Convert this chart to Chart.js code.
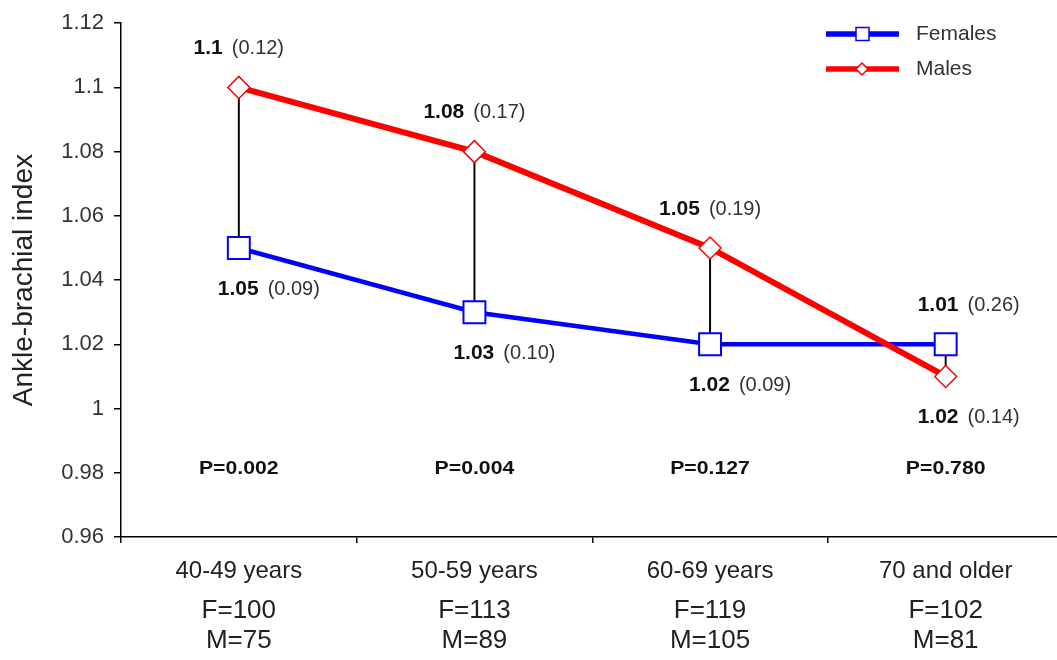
<!DOCTYPE html>
<html>
<head>
<meta charset="utf-8">
<script src="https://cdn.jsdelivr.net/npm/chart.js@4.4.1/dist/chart.umd.min.js"></script>
<style>
    html, body { margin: 0; padding: 0; background: #fff; overflow: hidden; }
</style>
</head>
<body>
<canvas id="abiChart" width="1081" height="660"></canvas>
<script>
// values
const ageGroups = ['40-49 years', '50-59 years', '60-69 years', '70 and older'];
const femaleMeans = [1.05, 1.03, 1.02, 1.02];
const maleMeans = [1.10, 1.08, 1.05, 1.01];
const upperMeanText = ['1.1', '1.08', '1.05', '1.01'];
const upperSdText = ['(0.12)', '(0.17)', '(0.19)', '(0.26)'];
const lowerMeanText = ['1.05', '1.03', '1.02', '1.02'];
const lowerSdText = ['(0.09)', '(0.10)', '(0.09)', '(0.14)'];
const pValues = ['P=0.002', 'P=0.004', 'P=0.127', 'P=0.780'];
const femaleCounts = [100, 113, 119, 102];
const maleCounts = [75, 89, 105, 81];
const yTicks = [0.96, 0.98, 1, 1.02, 1.04, 1.06, 1.08, 1.1, 1.12];

const FONT = "'Liberation Sans', Arial, sans-serif";
const BLUE = '#0000ff';
const RED = '#ff0000';

// horizontal nudges of the value labels, like in the original figure
const upperShift = [0, 0, 0, 23];
const lowerShift = [30, 30, 30, 23];

function drawValueLabel(ctx, cx, cy, bold, rest) {
    ctx.font = 'bold 21px ' + FONT;
    const w1 = ctx.measureText(bold).width;
    ctx.font = '20px ' + FONT;
    const w2 = ctx.measureText(rest).width;
    const gap = 9;
    const x = cx - (w1 + gap + w2) / 2;
    ctx.textAlign = 'left';
    ctx.textBaseline = 'middle';
    ctx.font = 'bold 21px ' + FONT;
    ctx.fillStyle = '#111';
    ctx.fillText(bold, x, cy);
    ctx.font = '20px ' + FONT;
    ctx.fillStyle = '#333';
    ctx.fillText(rest, x + w1 + gap, cy);
}

// text labels, p values, sample sizes and the legend
const annotations = {
    id: 'annotations',
    afterDatasetsDraw(chart) {
        const ctx = chart.ctx;
        const xs = chart.scales.x;
        const ys = chart.scales.y;
        ctx.save();

        ageGroups.forEach((g, i) => {
            const cx = xs.getPixelForValue(i);
            const top = ys.getPixelForValue(Math.max(femaleMeans[i], maleMeans[i]));
            const bottom = ys.getPixelForValue(Math.min(femaleMeans[i], maleMeans[i]));
            drawValueLabel(ctx, cx + upperShift[i], top - 39, upperMeanText[i], upperSdText[i]);
            drawValueLabel(ctx, cx + lowerShift[i], bottom + 41, lowerMeanText[i], lowerSdText[i]);

            // p values look a bit wide in the original, stretch them
            ctx.save();
            ctx.translate(cx, ys.getPixelForValue(0.98) - 4);
            ctx.scale(1.18, 1);
            ctx.textAlign = 'center';
            ctx.textBaseline = 'middle';
            ctx.fillStyle = '#111';
            ctx.font = 'bold 18px ' + FONT;
            ctx.fillText(pValues[i], 0, 0);
            ctx.restore();

            const axisY = chart.chartArea.bottom;
            ctx.textAlign = 'center';
            ctx.textBaseline = 'middle';
            ctx.fillStyle = '#222';
            ctx.font = '24px ' + FONT;
            ctx.fillText(g, cx, axisY + 34);
            ctx.font = '26px ' + FONT;
            ctx.fillText('F=' + femaleCounts[i], cx, axisY + 74);
            ctx.fillText('M=' + maleCounts[i], cx, axisY + 104);
        });

        // legend, top right
        const rows = [
            { ds: chart.data.datasets[0], y: 34 },
            { ds: chart.data.datasets[1], y: 69 }
        ];
        rows.forEach(r => {
            ctx.strokeStyle = r.ds.borderColor;
            ctx.lineWidth = 5.5;
            ctx.beginPath();
            ctx.moveTo(826, r.y);
            ctx.lineTo(899, r.y);
            ctx.stroke();
            ctx.fillStyle = '#fff';
            ctx.lineWidth = 1.5;
            ctx.beginPath();
            if (r.ds.pointStyle === 'rect') {
                ctx.rect(856, r.y - 6.5, 13, 13);
            } else {
                ctx.moveTo(862, r.y - 6);
                ctx.lineTo(868, r.y);
                ctx.lineTo(862, r.y + 6);
                ctx.lineTo(856, r.y);
                ctx.closePath();
            }
            ctx.fill();
            ctx.stroke();
            ctx.fillStyle = '#333';
            ctx.font = '21px ' + FONT;
            ctx.textAlign = 'left';
            ctx.textBaseline = 'middle';
            ctx.fillText(r.ds.label, 916, r.y);
        });

        ctx.restore();
    }
};

new Chart(document.getElementById('abiChart'), {
    data: {
        labels: ageGroups,
        datasets: [
            {
                type: 'line',
                label: 'Females',
                data: femaleMeans,
                borderColor: BLUE,
                borderWidth: 4.5,
                tension: 0,
                pointStyle: 'rect',
                pointRadius: 15.5,
                pointBorderWidth: 2,
                pointBorderColor: BLUE,
                pointBackgroundColor: '#fff',
                order: 1
            },
            {
                type: 'line',
                label: 'Males',
                data: maleMeans,
                borderColor: RED,
                borderWidth: 6,
                tension: 0,
                pointStyle: 'rectRot',
                pointRadius: 11,
                pointBorderWidth: 1.5,
                pointBorderColor: RED,
                pointBackgroundColor: '#fff',
                order: 0
            },
            {
                // thin black connectors between the two means
                type: 'bar',
                label: 'diff',
                data: femaleMeans.map((f, i) => [Math.min(f, maleMeans[i]), Math.max(f, maleMeans[i])]),
                backgroundColor: '#000',
                barThickness: 1.3,
                order: 2
            }
        ]
    },
    plugins: [annotations],
    options: {
        responsive: false,
        animation: false,
        devicePixelRatio: 1,
        layout: { padding: { top: 19, right: 3, left: 0, bottom: 0 } },
        plugins: {
            legend: { display: false },
            tooltip: { enabled: false }
        },
        scales: {
            x: {
                type: 'category',
                offset: true,
                grid: {
                    offset: true,
                    drawOnChartArea: false,
                    drawTicks: true,
                    tickLength: 6,
                    color: '#000',
                    lineWidth: 1.5
                },
                border: { color: '#000', width: 1.5 },
                ticks: { display: false },
                afterFit(scale) { scale.height = 123; }
            },
            y: {
                min: 0.96,
                max: 1.12,
                afterBuildTicks(scale) {
                    scale.ticks = yTicks.map(v => ({ value: v }));
                },
                grid: {
                    drawOnChartArea: false,
                    drawTicks: true,
                    tickLength: 7,
                    color: '#000',
                    lineWidth: 1.5
                },
                border: { color: '#000', width: 1.5 },
                ticks: {
                    padding: 10,
                    color: '#333',
                    font: { family: FONT, size: 22 },
                    callback: v => String(Number(v.toFixed(2)))
                },
                title: {
                    display: true,
                    text: 'Ankle-brachial index',
                    color: '#222',
                    font: { family: FONT, size: 28 },
                    padding: { top: 7, bottom: 0 }
                },
                afterFit(scale) { scale.width = 121; }
            }
        }
    }
});
</script>
</body>
</html>
